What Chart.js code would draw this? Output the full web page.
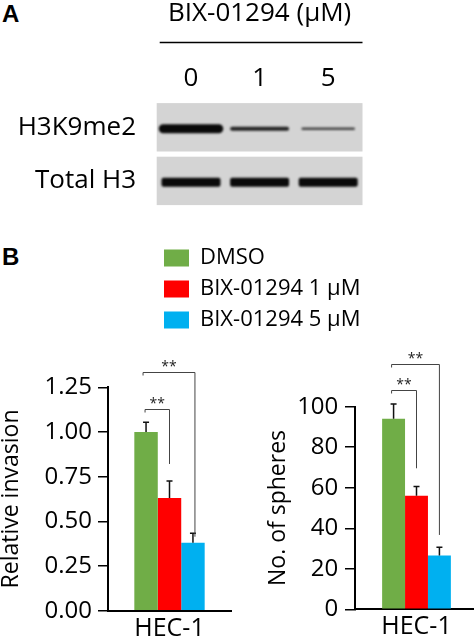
<!DOCTYPE html>
<html><head><meta charset="utf-8">
<script src="https://cdn.jsdelivr.net/npm/chart.js@4"></script>
<style>
html,body{margin:0;padding:0;background:#fff;width:474px;height:642px;overflow:hidden;position:relative;font-family:'Open Sans',sans-serif}
.box{position:absolute}
.lab{position:absolute;font:bold 24px 'Liberation Sans',Arial,sans-serif;line-height:24px;color:#000}
</style></head><body>
<div class="lab" style="left:2px;top:2px">A</div>
<div class="lab" style="left:2px;top:245px">B</div>
<div class="box" style="left:150px;top:238px;width:324px;height:130px"><canvas id="legend"></canvas></div>
<div class="box" style="left:0;top:0;width:474px;height:244px"><canvas id="blot"></canvas></div>
<div class="box" style="left:0;top:340px;width:240px;height:320px"><canvas id="inv"></canvas></div>
<div class="box" style="left:240px;top:340px;width:238px;height:320px"><canvas id="sph"></canvas></div>
<script>
// ---------- data ----------
const lanes = ['0', '1', '5'];                 // BIX-01294 (µM)
const blotRows = ['H3K9me2', 'Total H3'];
const h3k9me2Band = [1.0, 0.45, 0.22];         // relative band intensity
const totalH3Band = [1.0, 1.0, 1.0];
const groups = ['DMSO', 'BIX-01294 1 µM', 'BIX-01294 5 µM'];
const groupColors = ['#70AD47', '#FF0000', '#00B0F0'];
const cellLine = ['HEC-1'];
const invasion = [1.00, 0.63, 0.38];
const invasionErr = [0.054, 0.096, 0.053];
const spheres = [94, 56, 26.5];
const spheresErr = [7.3, 4.6, 4.1];

Chart.defaults.font.family = "'Open Sans', sans-serif";
Chart.defaults.color = '#000';

// ---------- panel A: western blot ----------
const blotPlugin = {
  id: 'blot',
  beforeDatasetsDraw(chart) {
    const {ctx, chartArea: a, scales: {x, y}} = chart;
    const rowH = a.height / blotRows.length;
    ctx.save();
    // heading underline
    ctx.strokeStyle = '#000'; ctx.lineWidth = 1.5;
    ctx.beginPath(); ctx.moveTo(a.left + 3, 42.5); ctx.lineTo(a.right, 42.5); ctx.stroke();
    const bands = [h3k9me2Band, totalH3Band];
    blotRows.forEach((r, ri) => {
      const cy = y.getPixelForValue(ri);
      ctx.fillStyle = '#d4d4d4';
      ctx.fillRect(a.left, cy - rowH / 2 + 2.6, a.width, rowH - 5.2);
      const laneW = a.width / lanes.length;
      lanes.forEach((l, li) => {
        const v = bands[ri][li];
        const cx = x.getPixelForValue(li);
        const hw = laneW * (ri === 0 ? 0.47 - 0.04 * li : 0.43);
        const th = Math.max(2.4, 9 * v);
        const by = cy + 1.4;
        ctx.filter = 'blur(0.9px)';
        ctx.fillStyle = 'rgba(10,10,10,' + (0.55 + 0.45 * Math.min(1, v * 1.6)) + ')';
        ctx.beginPath();
        ctx.roundRect(cx - hw, by - th / 2, hw * 2, th, ri === 0 ? th / 2 : 2);
        ctx.fill();
        ctx.filter = 'none';
      });
    });
    ctx.restore();
  }
};
new Chart(document.getElementById('blot'), {
  type: 'bar',
  data: {labels: lanes, datasets: []},
  plugins: [blotPlugin],
  options: {
    responsive: true, maintainAspectRatio: false, animation: false, devicePixelRatio: 1, events: [],
    layout: {padding: {left: 0, right: 111.5, top: 0, bottom: 0}},
    plugins: {legend: {display: false}, tooltip: {enabled: false}},
    scales: {
      x: {
        type: 'category', position: 'top', offset: true,
        grid: {display: false, drawTicks: false}, border: {display: false},
        ticks: {font: {size: 26}, padding: 6, color: '#000'},
        title: {display: true, text: 'BIX-01294 (µM)', font: {size: 26, lineHeight: 1}, padding: {top: 0.3, bottom: 0}, color: '#000'},
        afterFit(s) { s.height = 100.5; }
      },
      y: {
        type: 'category', labels: blotRows, position: 'left', offset: true, min: 0, max: 1,
        grid: {display: false, drawTicks: false}, border: {display: false},
        ticks: {font: {size: 26}, padding: 20.7, color: '#000'},
        afterFit(s) { s.width = 156.7; }
      }
    }
  }
});

// ---------- legend ----------
new Chart(document.getElementById('legend'), {
  type: 'bar',
  data: {labels: [], datasets: groups.map((g, i) => ({label: g, data: [], backgroundColor: groupColors[i], borderWidth: 0}))},
  options: {
    responsive: true, maintainAspectRatio: false, animation: false, devicePixelRatio: 1, events: [],
    layout: {padding: {left: 5, top: 0}},
    scales: {x: {display: false}, y: {display: false}},
    plugins: {
      tooltip: {enabled: false},
      legend: {
        position: 'left', align: 'start', maxWidth: 320,
        labels: {boxWidth: 25, boxHeight: 17, padding: 9, font: {size: 22}, color: '#000'}
      }
    }
  }
});

// ---------- panel B: bars, error bars, significance brackets ----------
const annotPlugin = {
  id: 'annot',
  afterDatasetsDraw(chart, args, opts) {
    const {ctx, scales: {y}} = chart;
    ctx.save();
    // error bars
    ctx.strokeStyle = '#111'; ctx.lineWidth = 1.5;
    chart.data.datasets.forEach((ds, i) => {
      const el = chart.getDatasetMeta(i).data[0];
      const top = y.getPixelForValue(ds.data[0] + ds.errorBar);
      ctx.beginPath();
      ctx.moveTo(el.x, el.y); ctx.lineTo(el.x, top);
      ctx.moveTo(el.x - 3, top); ctx.lineTo(el.x + 3, top);
      ctx.stroke();
    });
    // brackets
    ctx.strokeStyle = '#444'; ctx.lineWidth = 1;
    ctx.fillStyle = '#222'; ctx.font = "14px 'Open Sans'"; ctx.textAlign = 'center'; ctx.textBaseline = 'alphabetic';
    opts.brackets.forEach(b => {
      const x1 = chart.getDatasetMeta(b.from).data[0].x + b.dx1;
      const x2 = chart.getDatasetMeta(b.to).data[0].x + b.dx2;
      const yb = Math.round(y.getPixelForValue(b.level)) + 0.5;
      const yl = y.getPixelForValue(b.leg);
      ctx.beginPath();
      ctx.moveTo(x1, yb + 3); ctx.lineTo(x1, yb); ctx.lineTo(x2, yb); ctx.lineTo(x2, yl);
      ctx.stroke();
      ctx.fillText(b.text, (x1 + x2) / 2, yb - 2);
    });
    ctx.restore();
  }
};

function barChart(id, values, errs, opt) {
  return new Chart(document.getElementById(id), {
    type: 'bar',
    data: {
      labels: cellLine,
      datasets: groups.map((g, i) => ({
        label: g, data: [values[i]], errorBar: errs[i], backgroundColor: groupColors[i], borderWidth: 0,
        barPercentage: 1, categoryPercentage: opt.catPct
      }))
    },
    plugins: [annotPlugin],
    options: {
      responsive: true, maintainAspectRatio: false, animation: false, devicePixelRatio: 1, events: [],
      layout: {padding: {left: 0, right: opt.padRight, top: opt.padTop, bottom: 0}},
      plugins: {legend: {display: false}, tooltip: {enabled: false}, annot: {brackets: opt.brackets}},
      scales: {
        x: {
          grid: {display: true, drawOnChartArea: false, drawTicks: false},
          border: {display: true, color: '#000', width: 2},
          ticks: {font: {size: 25}, padding: 3, color: '#000'},
          afterFit(s) { s.height = opt.xH; }
        },
        y: {
          min: 0, max: opt.max,
          grid: {drawOnChartArea: false, drawTicks: true, tickLength: 10, color: '#000', lineWidth: 1.5},
          border: {display: true, color: '#000', width: 2},
          ticks: {stepSize: opt.step, font: {size: 24}, padding: opt.tickPad, color: '#000', callback: opt.fmt},
          title: {display: true, text: opt.title, font: {size: 23, lineHeight: 1}, padding: {top: opt.titlePad, bottom: 0}, color: '#000'},
          afterFit(s) { s.width = opt.yW; }
        }
      }
    }
  });
}

barChart('inv', invasion, invasionErr, {
  catPct: 0.572, padTop: 47.3, padRight: 9, xH: 49.3, max: 1.25, step: 0.25, tickPad: 6,
  fmt: v => v.toFixed(2), title: 'Relative invasion', titlePad: 0, yW: 108,
  brackets: [
    {from: 0, to: 1, level: 1.129, leg: 0.821, dx1: -1, dx2: 0, text: '**'},
    {from: 0, to: 2, level: 1.336, leg: 0.414, dx1: -3, dx2: 2, text: '**'}
  ]
});
barChart('sph', spheres, spheresErr, {
  catPct: 0.559, padTop: 66.7, padRight: 0, xH: 50.7, max: 100, step: 20, tickPad: 6.7,
  fmt: v => v, title: 'No. of spheres', titlePad: 26.8, yW: 115,
  brackets: [
    {from: 0, to: 1, level: 108.2, leg: 69.6, dx1: -2, dx2: 0, text: '**'},
    {from: 0, to: 2, level: 121.1, leg: 36.7, dx1: -2, dx2: 0, text: '**'}
  ]
});
</script>
</body></html>
